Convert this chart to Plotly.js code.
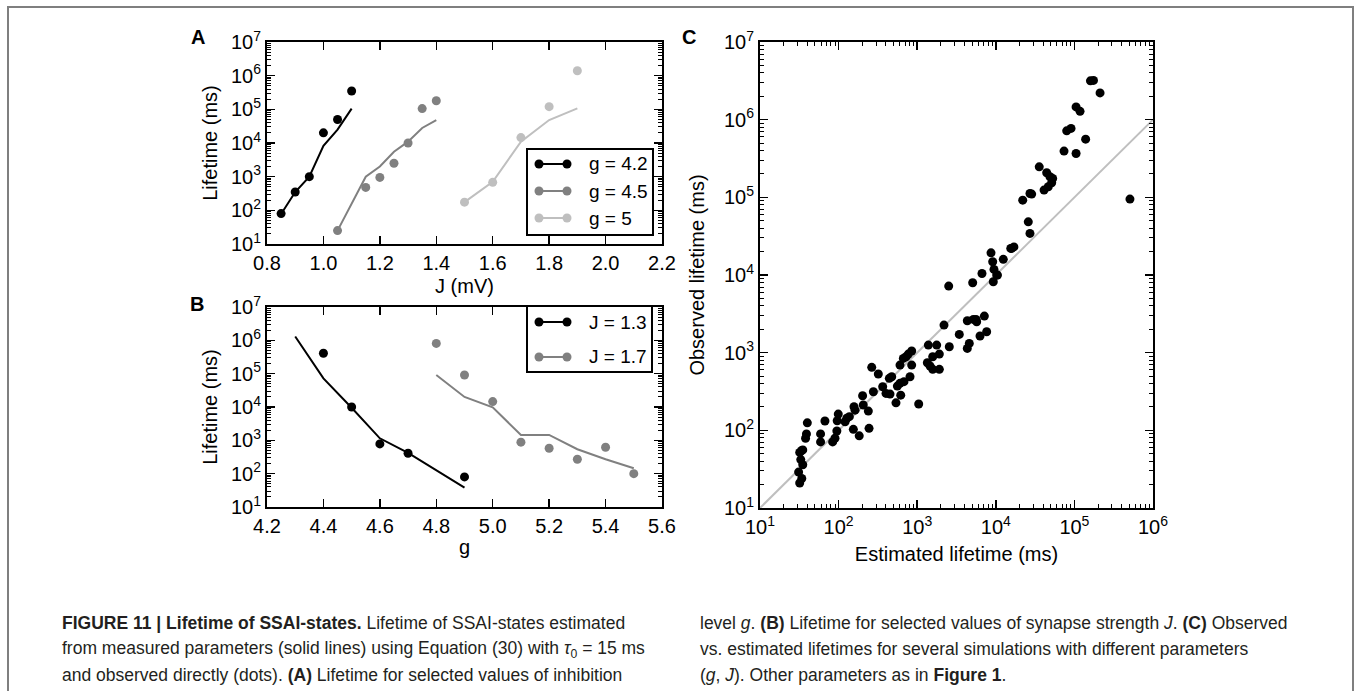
<!DOCTYPE html>
<html>
<head>
<meta charset="utf-8">
<script src="https://cdn.plot.ly/plotly-3.0.1.min.js"></script>
<style>html,body{margin:0;padding:0;background:#fff;}#chart{width:1355px;height:691px;}</style>
</head>
<body>
<div id="chart"></div>
<script>
// ---------- Panel A: lifetime vs J for selected g ----------
const seriesA = ['g = 4.2', 'g = 4.5', 'g = 5'];
const J_42 = [0.85, 0.9, 0.95, 1.0, 1.05, 1.1];
const obs_42 = [80, 350, 1000, 20000, 50000, 350000];
const est_42 = [78, 350, 1000, 8300, 25000, 105000];
const J_45 = [1.05, 1.15, 1.2, 1.25, 1.3, 1.35, 1.4];
const obs_45 = [25, 480, 950, 2500, 10000, 105000, 180000];
const est_45 = [25, 1000, 2000, 5500, 11000, 28000, 48000];
const J_50 = [1.5, 1.6, 1.7, 1.8, 1.9];
const obs_50 = [175, 680, 14500, 120000, 1400000];
const est_50 = [175, 700, 11000, 48000, 107000];

// ---------- Panel B: lifetime vs g for selected J ----------
const seriesB = ['J = 1.3', 'J = 1.7'];
const g_obs_13 = [4.4, 4.5, 4.6, 4.7, 4.9];
const obs_13 = [410000, 10000, 780, 410, 80];
const g_est_13 = [4.3, 4.4, 4.5, 4.6, 4.7, 4.8, 4.9];
const est_13 = [1300000, 72000, 9500, 1150, 420, 125, 38];
const g_17 = [4.8, 4.9, 5.0, 5.1, 5.2, 5.3, 5.4, 5.5];
const obs_17 = [810000, 91000, 14500, 880, 580, 270, 620, 100];
const est_17 = [91000, 20000, 9800, 1450, 1450, 540, 270, 145];

// ---------- Panel C: observed vs estimated lifetime ----------
const estC = [31,32,34,35,33,32,34,35,40,39,38,59,59,67,84,90,95,99,96,121,127,137,154,157,162,183,202,206,239,244,
  264,277,320,364,401,442,451,474,537,559,604,617,604,666,679,721,771,810,851,851,1045,1346,1387,1457,1575,1575,1770,1913,1913,2192,
  2516,2561,3433,4340,4600,4340,5080,5180,5600,5710,6300,6670,7150,7650,8690,9130,9290,9480,10260,10500,12450,15500,
  17000,15900,22000,27200,25900,27200,28600,35700,44400,48900,52900,51400,46500,41100,73800,105000,79800,90600,139000,105000,118000,160000,175000,212000,509000];
const obsC = [29,21,24,36,42,52,55,56,125,90,79,90,71,132,71,79,98,162,133,129,143,150,103,201,182,85,279,212,177,106,
  647,314,531,364,299,467,293,490,226,371,403,284,692,843,423,885,959,490,1050,692,218,741,1253,673,885,610,1253,959,610,2265,
  7200,1191,1718,1135,1316,2577,7950,2681,2681,2500,1637,10470,2958,1858,19300,14800,8190,11800,9970,9970,15900,22000,
  23000,22000,92000,112000,48400,34300,110000,247000,207000,184000,175000,154000,137000,124000,394000,367000,718000,771000,561000,1460000,1280000,3160000,3200000,2210000,95000];
const diagC = [10, 1000000];

// ---------- tick labels ----------
const decadesAB = [1, 2, 3, 4, 5, 6, 7];
const decadesCx = [1, 2, 3, 4, 5, 6];
const xTicksA = [0.8, 1.0, 1.2, 1.4, 1.6, 1.8, 2.0, 2.2];
const xTicksB = [4.2, 4.4, 4.6, 4.8, 5.0, 5.2, 5.4, 5.6];

const captionLeft = [
  '<b>FIGURE 11 | Lifetime of SSAI-states.</b> Lifetime of SSAI-states estimated',
  'from measured parameters (solid lines) using Equation (30) with <i>τ</i><sub>0</sub> = 15 ms',
  'and observed directly (dots). <b>(A)</b> Lifetime for selected values of inhibition'
];
const captionRight = [
  'level <i>g</i>. <b>(B)</b> Lifetime for selected values of synapse strength <i>J</i>. <b>(C)</b> Observed',
  'vs. estimated lifetimes for several simulations with different parameters',
  '(<i>g</i>, <i>J</i>). Other parameters as in <b>Figure 1</b>.'
];

// ---------- helpers ----------
const W = 1355, H = 691;
const px = v => v / W;
const py = v => 1 - v / H;
const BLACK = '#000000', GRAY = '#808080', LGRAY = '#bfbfbf';
const FONT = 'Liberation Sans, Arial, sans-serif';

function logTicks(decs) {
  return {vals: decs.map(d => Math.pow(10, d)), text: decs.map(d => '10<sup>' + d + '</sup>')};
}
function minorVals(lo, hi) {
  const out = [];
  for (let d = lo; d < hi; d++) for (let m = 2; m <= 9; m++) out.push(m * Math.pow(10, d));
  return out;
}
const tAB = logTicks(decadesAB), tCx = logTicks(decadesCx);

const axBase = {
  showline: true, linewidth: 2, linecolor: BLACK, mirror: 'ticks',
  ticks: 'inside', ticklen: 8, tickwidth: 1.5, tickcolor: BLACK,
  showgrid: false, zeroline: false,
  tickfont: {family: FONT, size: 20, color: BLACK},
  fixedrange: true
};
function linAx(extra) { return Object.assign({}, axBase, extra); }
function logAx(t, lo, hi, extra) {
  return Object.assign({}, axBase, {
    type: 'log', range: [lo, hi], tickmode: 'array', tickvals: t.vals, ticktext: t.text,
    minor: {tickmode: 'array', tickvals: minorVals(lo, hi), ticks: 'inside', ticklen: 4, tickwidth: 1, tickcolor: BLACK, showgrid: false}
  }, extra);
}
function titleObj(text, standoff) {
  return {text: text, font: {family: FONT, size: 20, color: BLACK}, standoff: standoff};
}

// ---------- traces ----------
const traces = [];
function addPair(xEst, yEst, xObs, yObs, color, xa, ya, name) {
  traces.push({x: xEst, y: yEst, type: 'scatter', mode: 'lines', line: {color: color, width: 2},
    xaxis: xa, yaxis: ya, name: name, hoverinfo: 'x+y'});
  traces.push({x: xObs, y: yObs, type: 'scatter', mode: 'markers', marker: {color: color, size: 9},
    xaxis: xa, yaxis: ya, name: name, hoverinfo: 'x+y'});
}
addPair(J_42, est_42, J_42, obs_42, BLACK, 'x', 'y', seriesA[0]);
addPair(J_45, est_45, J_45, obs_45, GRAY, 'x', 'y', seriesA[1]);
addPair(J_50, est_50, J_50, obs_50, LGRAY, 'x', 'y', seriesA[2]);
addPair(g_est_13, est_13, g_obs_13, obs_13, BLACK, 'x2', 'y2', seriesB[0]);
addPair(g_17, est_17, g_17, obs_17, GRAY, 'x2', 'y2', seriesB[1]);
traces.push({x: diagC, y: diagC, type: 'scatter', mode: 'lines', line: {color: LGRAY, width: 2}, xaxis: 'x3', yaxis: 'y3', hoverinfo: 'skip'});
traces.push({x: estC, y: obsC, type: 'scatter', mode: 'markers', marker: {color: BLACK, size: 9}, xaxis: 'x3', yaxis: 'y3'});

// ---------- custom legends ----------
const shapes = [];
const annotations = [];
function legendBox(x0, y0, x1, y1, names, colors, ys) {
  shapes.push({type: 'rect', xref: 'paper', yref: 'paper', x0: px(x0), x1: px(x1), y0: py(y1), y1: py(y0),
    line: {color: BLACK, width: 2}, fillcolor: 'white', layer: 'above'});
  names.forEach((n, i) => {
    const y = ys[i];
    shapes.push({type: 'line', xref: 'paper', yref: 'paper', x0: px(x0 + 12), x1: px(x0 + 40), y0: py(y), y1: py(y),
      line: {color: colors[i], width: 2}, layer: 'above'});
    [x0 + 12, x0 + 40].forEach(cx => {
      shapes.push({type: 'circle', xref: 'paper', yref: 'paper', x0: px(cx - 4.5), x1: px(cx + 4.5), y0: py(y + 4.5), y1: py(y - 4.5),
        line: {width: 0}, fillcolor: colors[i], layer: 'above'});
    });
    annotations.push({xref: 'paper', yref: 'paper', x: px(x0 + 60), y: py(y), xanchor: 'left', yanchor: 'middle',
      text: n, showarrow: false, font: {family: FONT, size: 19, color: BLACK}});
  });
}
legendBox(527, 149, 653, 235, seriesA, [BLACK, GRAY, LGRAY], [164, 191, 218]);
legendBox(527, 306, 652, 372, seriesB, [BLACK, GRAY], [322, 357]);

// panel letters
[['A', 198, 37], ['B', 197, 304], ['C', 689, 37]].forEach(l => {
  annotations.push({xref: 'paper', yref: 'paper', x: px(l[1]), y: py(l[2]), xanchor: 'center', yanchor: 'middle',
    text: '<b>' + l[0] + '</b>', showarrow: false, font: {family: FONT, size: 20, color: BLACK}});
});

// caption
const capFont = {family: 'Liberation Sans, Arial, sans-serif', size: 17.5, color: '#231f20'};
captionLeft.forEach((t, i) => annotations.push({xref: 'paper', yref: 'paper', x: px(60), y: py(623 + 26 * i),
  xanchor: 'left', yanchor: 'middle', text: t, showarrow: false, font: capFont}));
captionRight.forEach((t, i) => annotations.push({xref: 'paper', yref: 'paper', x: px(698), y: py(623 + 26 * i),
  xanchor: 'left', yanchor: 'middle', text: t, showarrow: false, font: capFont}));

// figure frame
shapes.push({type: 'rect', xref: 'paper', yref: 'paper', x0: px(8), x1: px(1353), y0: py(700), y1: py(7),
  line: {color: '#7f7f7f', width: 2}, layer: 'below'});

const layout = {
  width: W, height: H, margin: {l: 0, r: 0, t: 0, b: 0},
  paper_bgcolor: 'white', plot_bgcolor: 'white', showlegend: false,
  font: {family: FONT, color: BLACK},
  xaxis: linAx({domain: [px(267), px(662)], anchor: 'y', range: [0.8, 2.2], tickmode: 'array', tickvals: xTicksA,
    ticktext: xTicksA.map(v => v.toFixed(1)), title: titleObj('J (mV)', 6)}),
  yaxis: logAx(tAB, 1, 7, {domain: [py(244), py(42)], anchor: 'x', title: titleObj('Lifetime (ms)', 8)}),
  xaxis2: linAx({domain: [px(267), px(662)], anchor: 'y2', range: [4.2, 5.6], tickmode: 'array', tickvals: xTicksB,
    ticktext: xTicksB.map(v => v.toFixed(1)), title: titleObj('g', 4)}),
  yaxis2: logAx(tAB, 1, 7, {domain: [py(507), py(307)], anchor: 'x2', title: titleObj('Lifetime (ms)', 8)}),
  xaxis3: logAx(tCx, 1, 6, {domain: [px(760), px(1153)], anchor: 'y3', title: titleObj('Estimated lifetime (ms)', 10)}),
  yaxis3: logAx(tAB, 1, 7, {domain: [py(508), py(42)], anchor: 'x3', title: titleObj('Observed lifetime (ms)', 14)}),
  shapes: shapes, annotations: annotations
};

Plotly.newPlot('chart', traces, layout, {staticPlot: true, displayModeBar: false});
</script>
</body>
</html>
